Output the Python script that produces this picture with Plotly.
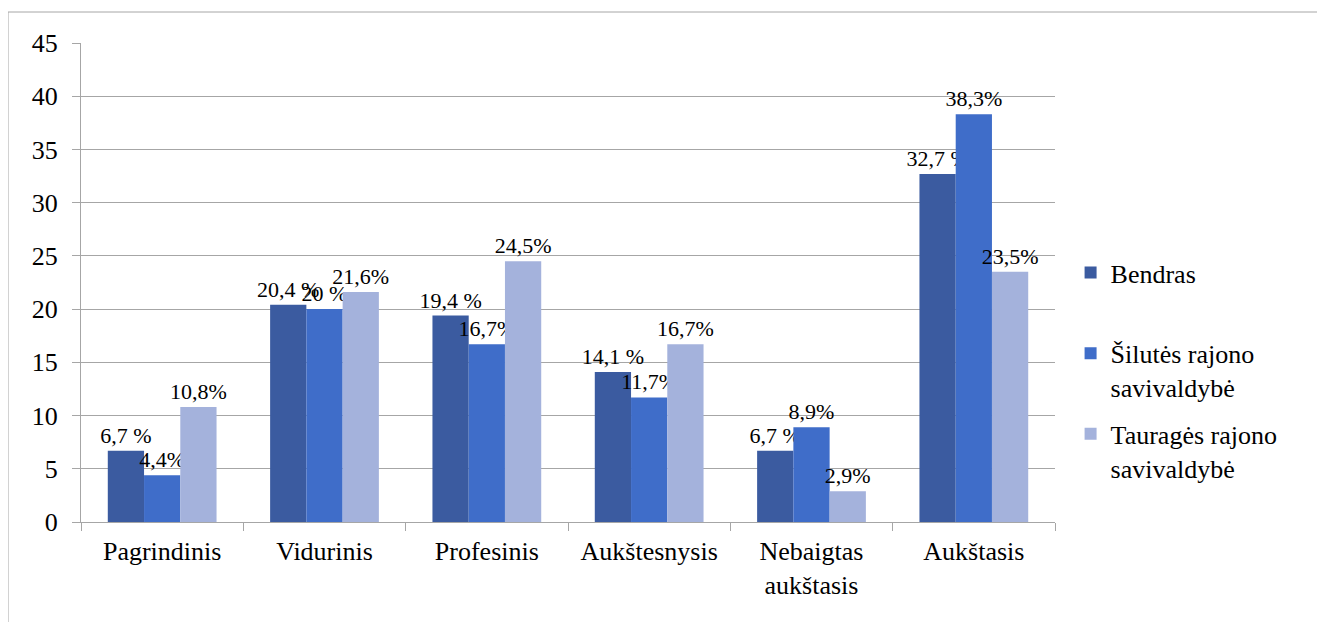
import plotly.graph_objects as go

categories = ["Pagrindinis", "Vidurinis", "Profesinis", "Aukštesnysis",
              "Nebaigtas<br>aukštasis", "Aukštasis"]
series_names = ["Bendras<br> ", "Šilutės rajono<br>savivaldybė", "Tauragės rajono<br>savivaldybė"]
bendras = [6.7, 20.4, 19.4, 14.1, 6.7, 32.7]
silutes = [4.4, 20.0, 16.7, 11.7, 8.9, 38.3]
taurages = [10.8, 21.6, 24.5, 16.7, 2.9, 23.5]
bendras_labels = ["6,7 %", "20,4 %", "19,4 %", "14,1 %", "6,7 %", "32,7 %"]
silutes_labels = ["4,4%", "20 %", "16,7%", "11,7%", "8,9%", "38,3%"]
taurages_labels = ["10,8%", "21,6%", "24,5%", "16,7%", "2,9%", "23,5%"]
y_ticks = [0, 5, 10, 15, 20, 25, 30, 35, 40, 45]

colors = ["#3B5BA0", "#3F6DC9", "#A4B2DC"]
FONT = "Liberation Serif"

fig = go.Figure()
for i, (name, vals, labels) in enumerate(zip(series_names,
                                             [bendras, silutes, taurages],
                                             [bendras_labels, silutes_labels, taurages_labels])):
    fig.add_trace(go.Bar(
        x=categories, y=vals, name=name, legendgroup=f"g{i}",
        marker=dict(color=colors[i], line=dict(width=0)),
        text=labels, textposition="outside", constraintext="none",
        cliponaxis=False,
        textfont=dict(family=FONT, size=22, color="black"),
    ))

# page body has an 8px margin; offsets below are in figure pixels
L, T = 73, 35
W, H = 1317, 614
pw, ph = 974, 479
R, B = W - L - pw, H - T - ph

fig.update_layout(
    template="none",
    width=W, height=H,
    margin=dict(l=L, r=R, t=T, b=B, autoexpand=False),
    barmode="group", bargap=0.33, bargroupgap=0,
    plot_bgcolor="white", paper_bgcolor="white",
    font=dict(family=FONT, size=26, color="black"),
    legend=dict(x=1.016, y=0.317, xanchor="left", yanchor="middle",
                font=dict(family=FONT, size=26, color="black"),
                tracegroupgap=10, valign="top", bgcolor="rgba(0,0,0,0)"),
)
fig.update_yaxes(range=[0, 45], tickvals=y_ticks, showgrid=True,
                 gridcolor="#A6A6A6", gridwidth=1,
                 showline=True, linecolor="#A6A6A6", linewidth=1,
                 ticks="outside", ticklen=8, tickcolor="#A6A6A6",
                 ticklabelstandoff=9,
                 tickfont=dict(family=FONT, size=26, color="black"),
                 zeroline=False)
fig.update_xaxes(showline=True, linecolor="#A6A6A6", linewidth=1,
                 ticks="outside", ticklen=8, tickcolor="#A6A6A6",
                 tickson="boundaries", showgrid=False,
                 ticklabelstandoff=6,
                 tickfont=dict(family=FONT, size=26, color="black"))

# outer chart-area border
fig.add_shape(type="rect", xref="paper", yref="paper",
              x0=(0 - L) / pw, x1=(1312 - L) / pw,
              y0=(ph + T - 640) / ph, y1=(ph + T - 4) / ph,
              line=dict(color="#A6A6A6", width=1), layer="below")

fig.write_html("out.html")
